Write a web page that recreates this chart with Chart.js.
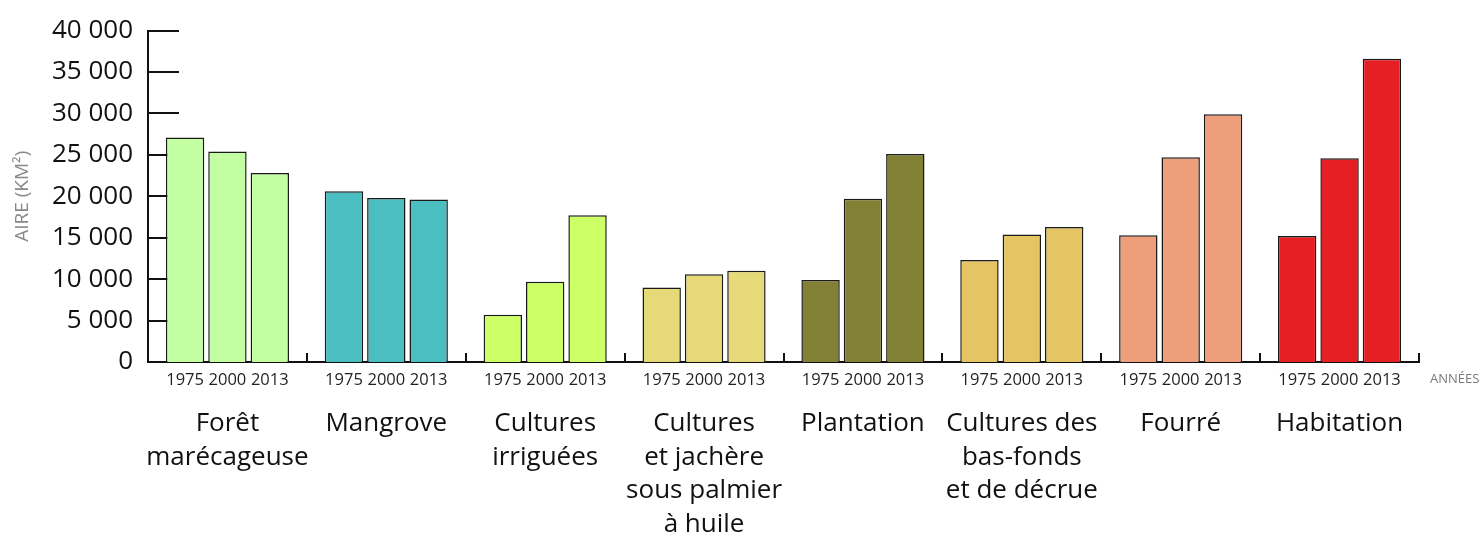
<!DOCTYPE html>
<html lang="fr">
<head>
<meta charset="utf-8">
<title>Occupation du sol</title>
<script src="https://cdn.jsdelivr.net/npm/chart.js@4.4.1/dist/chart.umd.min.js"></script>
<style>
  html, body { margin: 0; padding: 0; background: #fff; }
  #wrap { width: 1483px; height: 539px; }
</style>
</head>
<body>
<div id="wrap"><canvas id="chart" width="1483" height="539"></canvas></div>
<script>
// land cover classes (multi-line labels)
const categories = [
  ['Forêt', 'marécageuse'],
  ['Mangrove'],
  ['Cultures', 'irriguées'],
  ['Cultures', 'et jachère', 'sous palmier', 'à huile'],
  ['Plantation'],
  ['Cultures des', 'bas-fonds', 'et de décrue'],
  ['Fourré'],
  ['Habitation']
];
const years = ['1975', '2000', '2013'];

// area in km² per year
const area1975 = [27100, 20600, 5700, 9000, 9900, 12300, 15300, 15200];
const area2000 = [25400, 19800, 9700, 10600, 19700, 15400, 24700, 24600];
const area2013 = [22800, 19600, 17700, 11000, 25100, 16300, 29900, 36600];

const classColors = ['#c3fea2', '#4abec1', '#ccff66', '#e6d978', '#818035', '#e5c464', '#ef9e7b', '#e61f25'];

const yTicks = [0, 5000, 10000, 15000, 20000, 25000, 30000, 35000, 40000];

const FONT = "'Open Sans', 'DejaVu Sans', sans-serif";

function fmt(v) {
  return String(v).replace(/\B(?=(\d{3})+(?!\d))/g, ' ');
}

// inward tick marks on both axes (drawn under the bars)
const axisTicks = {
  id: 'axisTicks',
  beforeDatasetsDraw(chart) {
    const { ctx, chartArea, scales: { x, y } } = chart;
    ctx.save();
    ctx.strokeStyle = '#111';
    ctx.lineWidth = 2;
    ctx.beginPath();
    yTicks.forEach(v => {
      if (v === 0) return;
      const py = Math.round(y.getPixelForValue(v));
      ctx.moveTo(chartArea.left, py);
      ctx.lineTo(chartArea.left + 31, py);
    });
    for (let i = 1; i <= categories.length; i++) {
      const px = Math.round(x.getPixelForValue(i - 0.5));
      ctx.moveTo(px, chartArea.bottom);
      ctx.lineTo(px, chartArea.bottom - 9);
    }
    ctx.stroke();
    ctx.restore();
  }
};

// year under each bar + "ANNÉES" at the end of the axis
const yearLabels = {
  id: 'yearLabels',
  afterDatasetsDraw(chart) {
    const { ctx, chartArea } = chart;
    ctx.save();
    ctx.font = '16.5px ' + FONT;
    ctx.fillStyle = '#231f20';
    ctx.textAlign = 'center';
    ctx.textBaseline = 'middle';
    chart.data.datasets.forEach((ds, di) => {
      chart.getDatasetMeta(di).data.forEach(bar => {
        ctx.fillText(ds.label, bar.x, chartArea.bottom + 18);
      });
    });
    ctx.font = '13px ' + FONT;
    ctx.fillStyle = '#7a7a7a';
    ctx.textAlign = 'left';
    ctx.fillText('ANNÉES', chartArea.right + 11, chartArea.bottom + 17);
    ctx.restore();
  }
};

const datasets = [area1975, area2000, area2013].map((values, i) => ({
  label: years[i],
  data: values,
  backgroundColor: classColors,
  borderColor: '#1a1a1a',
  borderWidth: 1.5,
  categoryPercentage: 0.8,
  barPercentage: 0.906
}));

new Chart(document.getElementById('chart'), {
  type: 'bar',
  data: { labels: categories, datasets: datasets },
  plugins: [axisTicks, yearLabels],
  options: {
    responsive: false,
    animation: false,
    layout: { padding: { top: 25, right: 64, left: 10, bottom: 0 } },
    plugins: {
      legend: { display: false },
      tooltip: { enabled: false }
    },
    scales: {
      x: {
        grid: { display: false, drawTicks: false },
        border: { display: true, color: '#111', width: 2 },
        ticks: {
          autoSkip: false,
          maxRotation: 0,
          minRotation: 0,
          padding: 45,
          color: '#111',
          font: { family: FONT, size: 26, lineHeight: '33.5px' }
        },
        afterFit(scale) { scale.height = 177; }
      },
      y: {
        min: 0,
        max: 40000,
        grid: { display: false, drawTicks: false },
        border: { display: true, color: '#111', width: 2 },
        ticks: {
          stepSize: 5000,
          padding: 15,
          color: '#111',
          font: { family: FONT, size: 26 },
          callback: v => fmt(v)
        },
        title: {
          display: true,
          text: 'AIRE (KM²)',
          color: '#888',
          font: { family: FONT, size: 19 },
          padding: { top: 1, bottom: 2 }
        },
        afterFit(scale) { scale.width = 138; }
      }
    }
  }
});
</script>
</body>
</html>
